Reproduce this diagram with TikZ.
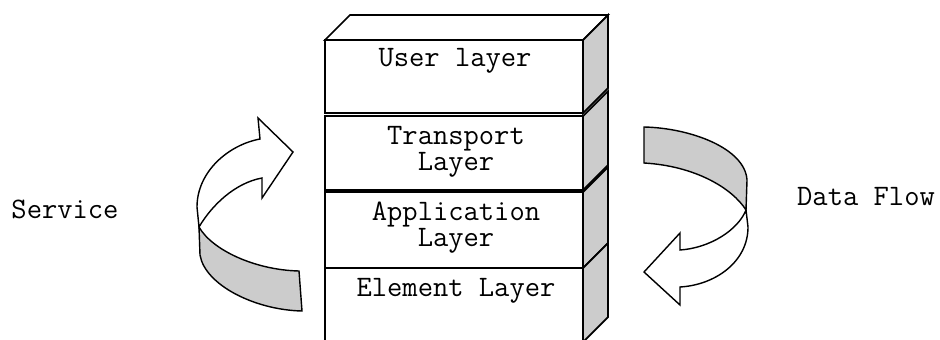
\documentclass[tikz,border=0pt]{standalone}
\usepackage{fontspec}

\begin{document}
\begin{tikzpicture}[x=0.2mm, y=-0.2mm]
    % Define styles
    \tikzstyle{layerbox} = [rectangle, draw=black, line width=1pt, fill=white, minimum width=51.6mm, outer sep=0pt, inner sep=0pt]
    \tikzstyle{side} = [draw=black, line width=1pt, fill=black!20, line join=miter]
    \tikzstyle{layertext} = [font=\ttfamily\fontsize{16.9}{14.8}\selectfont, anchor=base, align=center, inner sep=0pt]
    \tikzstyle{ribbon} = [draw=black, thick, line join=miter]

    \useasboundingbox (0,0) rectangle (940,340);
    \clip (0,0) rectangle (940,340);

    % Layer boxes (front faces)
    \node[layerbox, minimum height=14.6mm] (user) at (454,76.5) {};
    \node[layerbox, minimum height=14.8mm] (transport) at (454,153) {};
    \node[layerbox, minimum height=15.2mm] (application) at (454,230) {};
    \node[layerbox, minimum height=14.8mm] (element) at (454,305) {};

    % Top face of the stack
    \draw[layerbox] (user.north west) -- ++(25,-25) -- ++(258,0) -- (user.north east) -- cycle;

    % Side faces
    \draw[side] (user.north east) -- ++(25,-25) -- ++(0,73) -- (user.south east) -- cycle;
    \draw[side] (transport.north east) -- ++(25,-25) -- ++(0,74) -- (transport.south east) -- cycle;
    \draw[side] (application.north east) -- ++(25,-25) -- ++(0,76) -- (application.south east) -- cycle;
    \draw[side] (element.north east) -- ++(25,-25) -- ++(0,74) -- (element.south east) -- cycle;

    % Layer names (base = last line)
    \node[layertext] (usertext) at (455,66.7) {User layer};
    \node[layertext] (transporttext) at (456,171) {Transport\\Layer};
    \node[layertext] (applicationtext) at (456,246.7) {Application\\Layer};
    \node[layertext] (elementtext) at (456,296.7) {Element Layer};

    % Service arrow (left)
    \draw[ribbon, fill=black!20] (199,227) .. controls (212,250) and (255,270) .. (299,271) -- (302,311) .. controls (255,310) and (205,285) .. (200,255) -- cycle;
    \draw[ribbon, fill=white] (293,152) -- (258,118) -- (260,139) .. controls (228,145) and (197,172) .. (197,207) -- (199,227) .. controls (212,205) and (235,183) .. (262,178) -- (262,198) -- cycle;
    \node[layertext] (service) at (65,219) {Service};

    % Data flow arrow (right)
    \draw[ribbon, fill=black!20] (644,127) .. controls (690,128) and (745,148) .. (747,180) -- (746,210) .. controls (732,188) and (695,166) .. (644,163) -- cycle;
    \draw[ribbon, fill=white] (746,210) .. controls (738,230) and (710,248) .. (680,250) -- (680,233) -- (644,272) -- (680,305) -- (680,287) .. controls (715,285) and (748,262) .. (748,227) -- cycle;
    \node[layertext] (dataflow) at (866,206) {Data Flow};

\end{tikzpicture}
\end{document}
